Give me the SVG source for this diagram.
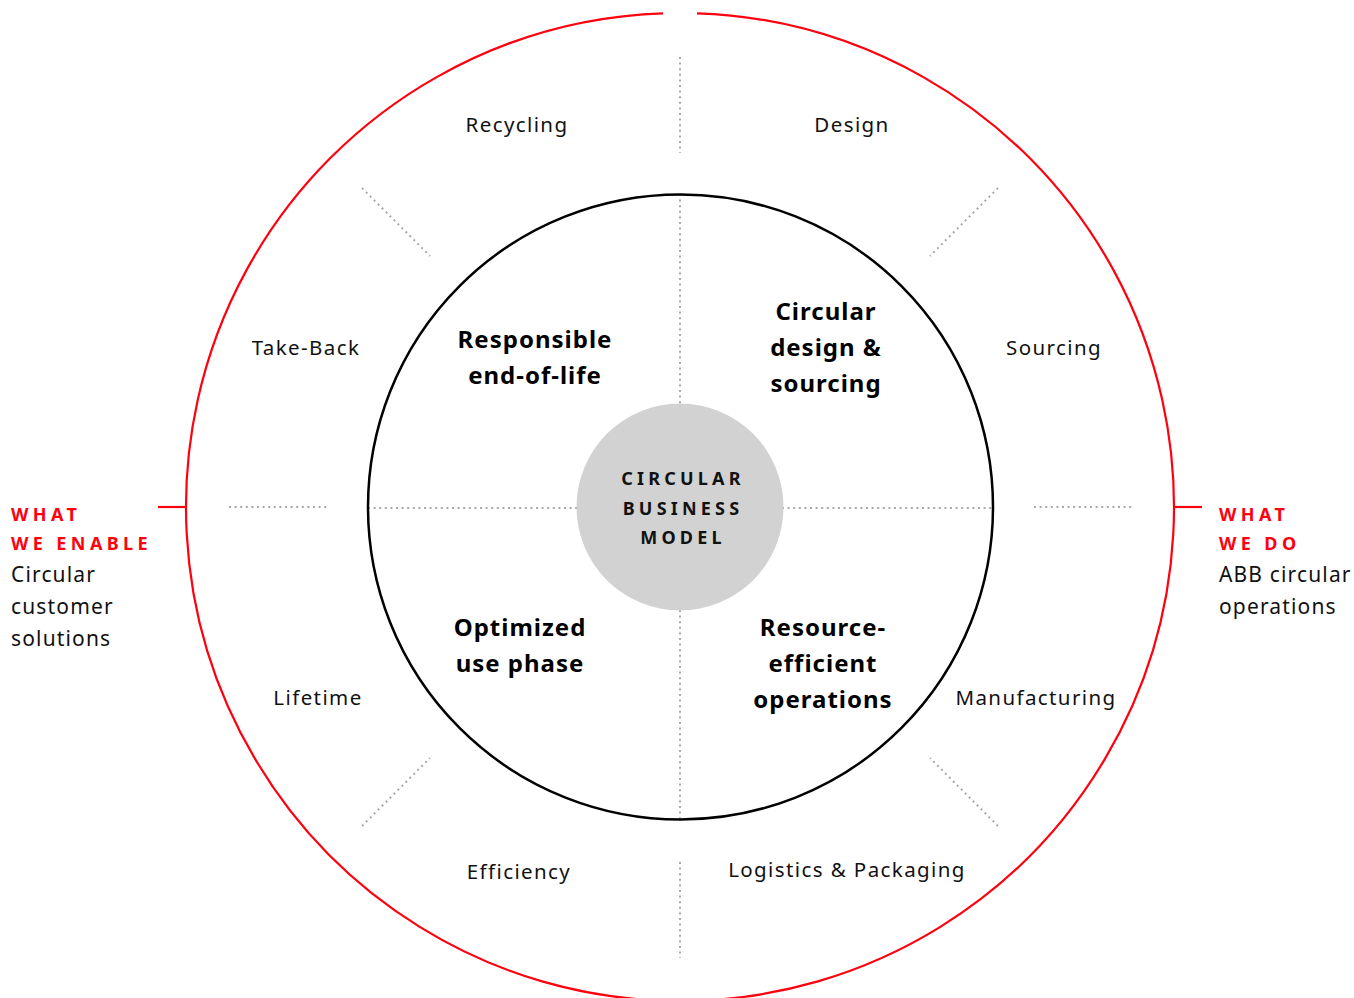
<svg xmlns="http://www.w3.org/2000/svg" width="1354" height="998" viewBox="0 0 1354 998">
  <style>
    .dot { stroke: #a8a8a8; stroke-width: 2; stroke-dasharray: 2 3.6; fill: none; }
    .lbl { font-family: "Noto Sans", "Open Sans", sans-serif; font-size: 20.5px; letter-spacing: 1.4px; fill: #111; }
    .seg { font-family: "Noto Sans", "Open Sans", sans-serif; font-size: 24px; font-weight: bold; letter-spacing: 1px; fill: #000; text-anchor: middle; }
    .core { font-family: "Noto Sans", "Open Sans", sans-serif; font-size: 18px; font-weight: bold; fill: #111; letter-spacing: 4.2px; text-anchor: middle; }
    .red { font-family: "Noto Sans", "Open Sans", sans-serif; font-size: 18px; font-weight: bold; fill: #ff000f; letter-spacing: 4.4px; }
    .side { font-family: "Noto Sans", "Open Sans", sans-serif; font-size: 21px; letter-spacing: 1.15px; fill: #111; }
  </style>
  <rect width="1354" height="998" fill="#fff"/>

  <g id="outer-ring">
    <!-- red ring with a small opening at the top -->
    <path d="M 697 13.3 A 494 494 0 1 1 663 13.3" fill="none" stroke="#ff000f" stroke-width="2.2"/>
    <line x1="158" y1="507" x2="186" y2="507" stroke="#ff000f" stroke-width="2.2"/>
    <line x1="1174" y1="507" x2="1202" y2="507" stroke="#ff000f" stroke-width="2.2"/>
  </g>

  <g id="connectors">
    <!-- spokes between the outer labels -->
    <line class="dot" x1="680" y1="57" x2="680" y2="153"/>
    <line class="dot" x1="680" y1="862" x2="680" y2="958"/>
    <line class="dot" x1="229" y1="507" x2="327" y2="507"/>
    <line class="dot" x1="1034" y1="507" x2="1132" y2="507"/>
    <line class="dot" x1="362" y1="188" x2="430" y2="256"/>
    <line class="dot" x1="998" y1="188" x2="930" y2="256"/>
    <line class="dot" x1="362" y1="826" x2="430" y2="758"/>
    <line class="dot" x1="998" y1="826" x2="930" y2="758"/>
    <!-- quadrant dividers inside the inner ring -->
    <line class="dot" x1="680" y1="194" x2="680" y2="404"/>
    <line class="dot" x1="680" y1="610" x2="680" y2="820"/>
    <line class="dot" x1="368" y1="508" x2="578" y2="508"/>
    <line class="dot" x1="782" y1="508" x2="993" y2="508"/>
  </g>

  <g id="inner-ring">
    <circle cx="680.5" cy="507" r="312.5" fill="none" stroke="#000" stroke-width="2.5"/>
  </g>

  <g id="core">
    <circle cx="680" cy="507" r="103.5" fill="#d2d2d2"/>
    <text class="core" x="683" y="485">CIRCULAR</text>
    <text class="core" x="683" y="515">BUSINESS</text>
    <text class="core" x="683" y="544">MODEL</text>
  </g>

  <g id="seg-end-of-life">
    <text class="seg" x="535" y="348">Responsible</text>
    <text class="seg" x="535" y="384">end-of-life</text>
  </g>
  <g id="seg-design-sourcing">
    <text class="seg" x="826" y="320">Circular</text>
    <text class="seg" x="826" y="356">design &amp;</text>
    <text class="seg" x="826" y="392">sourcing</text>
  </g>
  <g id="seg-use-phase">
    <text class="seg" x="520" y="636">Optimized</text>
    <text class="seg" x="520" y="672">use phase</text>
  </g>
  <g id="seg-operations">
    <text class="seg" x="823" y="636">Resource-</text>
    <text class="seg" x="823" y="672">efficient</text>
    <text class="seg" x="823" y="708">operations</text>
  </g>

  <g id="stage-labels" text-anchor="middle">
    <text class="lbl" x="517" y="132">Recycling</text>
    <text class="lbl" x="852" y="132">Design</text>
    <text class="lbl" x="306" y="355">Take-Back</text>
    <text class="lbl" x="1054" y="355">Sourcing</text>
    <text class="lbl" x="318" y="705">Lifetime</text>
    <text class="lbl" x="1036" y="705">Manufacturing</text>
    <text class="lbl" x="519" y="879">Efficiency</text>
    <text class="lbl" x="847" y="877">Logistics &amp; Packaging</text>
  </g>

  <g id="what-we-enable">
    <text class="red" x="11" y="521">WHAT</text>
    <text class="red" x="11" y="550">WE ENABLE</text>
    <text class="side" x="11" y="582">Circular</text>
    <text class="side" x="11" y="614">customer</text>
    <text class="side" x="11" y="646">solutions</text>
  </g>

  <g id="what-we-do">
    <text class="red" x="1219" y="521">WHAT</text>
    <text class="red" x="1219" y="550">WE DO</text>
    <text class="side" x="1219" y="582">ABB circular</text>
    <text class="side" x="1219" y="614">operations</text>
  </g>
</svg>
